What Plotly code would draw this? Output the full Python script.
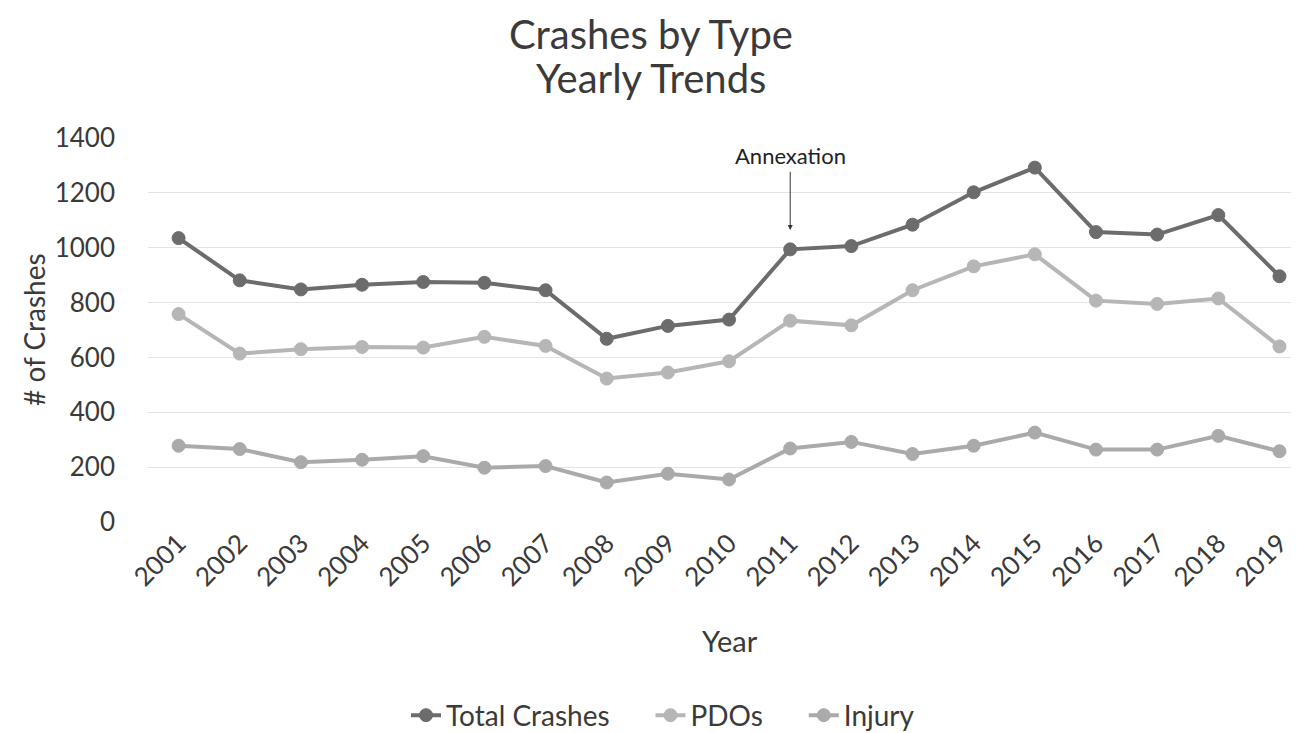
import plotly.graph_objects as go

years = [str(y) for y in range(2001, 2020)]
total_crashes = [1035, 881, 848, 865, 875, 872, 845, 668, 715, 738, 994, 1006, 1084, 1202, 1292, 1057, 1048, 1119, 896]
pdos = [758, 614, 630, 638, 636, 675, 642, 523, 545, 586, 734, 717, 845, 932, 976, 807, 795, 815, 640]
injury = [278, 266, 218, 227, 240, 198, 204, 144, 176, 155, 268, 292, 248, 278, 326, 264, 264, 314, 258]

FONT = "Lato"
TXT = "#3a3a3a"
GAP = "\u00a0" * 5  # extra room between legend entries

# plot area in pixels: x 140..1299, y 130..521
def px(x):
    return (x - 140) / 1159

def py(y):
    return (521 - y) / 391

fig = go.Figure()

series = [
    ("Total Crashes" + GAP, total_crashes, "#6c6c6c"),
    ("PDOs" + GAP, pdos, "#b6b6b6"),
    ("Injury", injury, "#aaaaaa"),
]
for name, vals, col in series:
    fig.add_trace(go.Scatter(
        x=years, y=vals, name=name,
        mode="lines+markers",
        line=dict(color=col, width=4),
        marker=dict(color=col, size=13, line=dict(color=col, width=1)),
    ))

# annexation marker
fig.add_annotation(
    x=10, y=1065, ax=10, ay=1282, xref="x", yref="y", axref="x", ayref="y",
    text="", showarrow=True, arrowhead=2, arrowsize=1, arrowwidth=1, arrowcolor="#333",
)
fig.add_annotation(
    x=10, y=py(148), xref="x", yref="paper", text="Annexation", showarrow=False,
    yanchor="middle", xanchor="center",
    font=dict(family=FONT, size=22, color="#222"),
)

# titles
fig.add_annotation(
    x=px(643), y=py(24), xref="paper", yref="paper", text="Crashes by Type",
    showarrow=False, xanchor="center", yanchor="middle",
    font=dict(family=FONT, size=40, color=TXT),
)
fig.add_annotation(
    x=px(643), y=py(69), xref="paper", yref="paper", text="Yearly Trends",
    showarrow=False, xanchor="center", yanchor="middle",
    font=dict(family=FONT, size=40, color=TXT),
)
fig.add_annotation(
    x=px(26), y=0.5, xref="paper", yref="paper", text="# of Crashes",
    textangle=-90, showarrow=False, xanchor="center", yanchor="middle",
    font=dict(family=FONT, size=28, color=TXT),
)
fig.add_annotation(
    x=px(722), y=py(642), xref="paper", yref="paper", text="Year",
    showarrow=False, xanchor="center", yanchor="middle",
    font=dict(family=FONT, size=29, color=TXT),
)

fig.update_layout(
    width=1299, height=733,
    margin=dict(l=140, r=0, t=130, b=212),
    paper_bgcolor="white", plot_bgcolor="white",
    font=dict(family=FONT, color=TXT),
    showlegend=True,
    xaxis=dict(
        type="category", range=[-0.5, 18.45],
        tickangle=-45, tickfont=dict(size=26, color=TXT),
        showgrid=False, showline=False, ticks="",
    ),
    yaxis=dict(
        range=[0, 1400], dtick=200,
        tickfont=dict(size=26, color=TXT),
        gridcolor="#e4e4e4", gridwidth=1, zeroline=False,
        showline=False, ticklabelstandoff=32,
    ),
    legend=dict(
        orientation="h", x=px(655), xanchor="center",
        y=py(718), yanchor="middle",
        font=dict(size=28, color=TXT),
        itemwidth=30,
    ),
)

fig.write_html("out.html")
